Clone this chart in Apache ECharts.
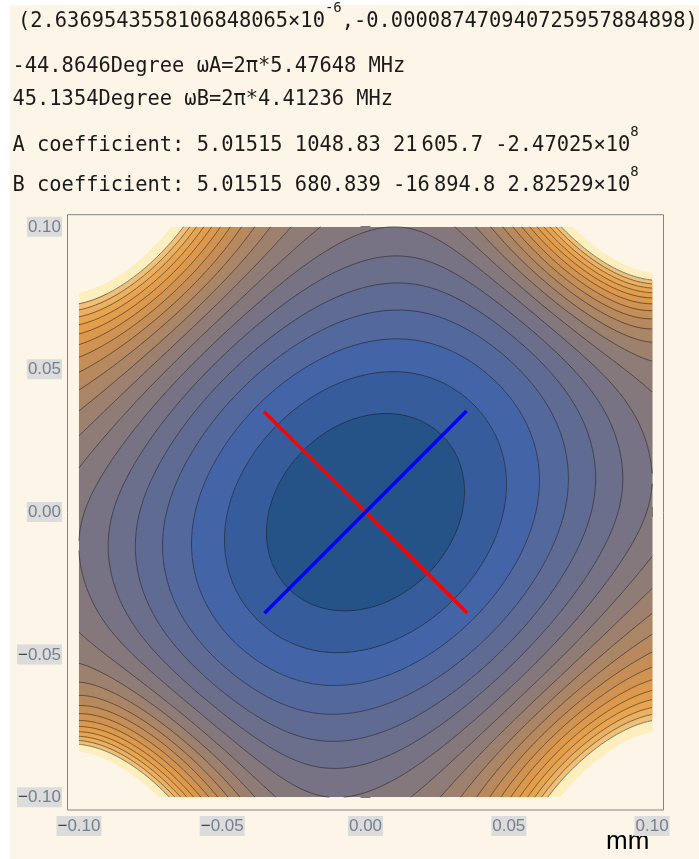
<!DOCTYPE html>
<html>
<head>
<meta charset="utf-8">
<script src="https://cdn.jsdelivr.net/npm/echarts@6.0.0/dist/echarts.min.js"></script>
<style>
html,body{margin:0;padding:0;background:#ffffff;}
#chart{width:699px;height:859px;}
</style>
</head>
<body>
<div id="chart"></div>
<script>
// ================= data =================
const trapCenter    = [2.6369543558106848065e-6, -0.000087470940725957884898]; // mm
const axisAnglesDeg = [-44.8646, 45.1354];       // principal axes A, B
const axisFreqMHz   = [5.47648, 4.41236];        // omega/2pi along A, B
const coefA = [5.01515, 1048.83, 21605.7, -2.47025e8];
const coefB = [5.01515, 680.839, -16894.8, 2.82529e8];
// higher-order part of the plotted field (estimated from the contour shapes)
const electrodeXY     = [0.12587, 0.12587];  // mm, RF electrode positions (+-x, +-y)
const anisoFadeRadius = 0.153;               // mm
const cornerTerms     = [2.434e11, 3.39e8];  // x^4y^4(y^2-x^2), x^3y^3(y^2-x^2)
const contourLevels = [6,7,8,9,10,11,12,13,14,15,16,17,18,19,20,21,22,23,24];
const plotRangeMax  = 26.2;
const majorTicks = [-0.10,-0.05,0.00,0.05,0.10];
const minorTicks = [-0.10,-0.09,-0.08,-0.07,-0.06,-0.05,-0.04,-0.03,-0.02,-0.01,0.00,
                    0.01,0.02,0.03,0.04,0.05,0.06,0.07,0.08,0.09,0.10];
const dataExtent = [-0.10, 0.10];
const crossHalfLength = 0.05;   // mm
const centerText = ['(2.6369543558106848065\u00d710', '-6', ',-0.000087470940725957884898)'];
const axisUnit = 'mm';

// ================= style =================
const bandColors = ['#255388','#365c9c','#4464a8','#53689c','#606b93','#6c6f8b','#787384',
  '#84787d','#907c76','#9d806e','#aa8566','#b8895e','#c58e57','#d19351','#dc994d',
  '#e39e4c','#e7a552','#ebb060','#f0c078','#fdeebe'];
const CREAM = '#fdf5e7';
const FR = {left: 67.5, top: 214.7, width: 596, height: 595.3};
const XR = [-0.104, 0.104], YR = [-0.1045, 0.1042];
const MONO = '"DejaVu Sans Mono", monospace';
const SANS = '"Liberation Sans", Arial, sans-serif';

// ================= field =================
const V0 = coefA[0], kA = coefA[1], kB = coefB[1];
const thA = axisAnglesDeg[0]*Math.PI/180, thB = axisAnglesDeg[1]*Math.PI/180;
const cA = Math.cos(thA), sAn = Math.sin(thA), cB = Math.cos(thB), sBn = Math.sin(thB);
const Ciso = (kA + kB) / 2;
const rods = [[electrodeXY[0], electrodeXY[1], 1], [-electrodeXY[0], electrodeXY[1], -1],
              [-electrodeXY[0], -electrodeXY[1], 1], [electrodeXY[0], -electrodeXY[1], -1]];
function E2(x, y) {
  let re = 0, im = 0;
  for (const r of rods) {
    const dx = x - r[0], dy = y - r[1], d2 = dx*dx + dy*dy;
    re += r[2]*dx/d2; im -= r[2]*dy/d2;
  }
  return re*re + im*im;
}
const Knorm = Ciso / (E2(1e-6, 0) / 1e-12);
function field(x, y) {
  const dx = x - trapCenter[0], dy = y - trapCenter[1];
  const a = dx*cA + dy*sAn, b = dx*cB + dy*sBn;
  const x2 = dx*dx, y2 = dy*dy, r2 = x2 + y2;
  const Q = kA*a*a + kB*b*b;
  const q = r2/(anisoFadeRadius*anisoFadeRadius);
  const h = 1/(1 + q*q);
  const xy = dx*dy, d = y2 - x2;
  const corner = cornerTerms[0]*xy*xy*xy*xy*d + cornerTerms[1]*xy*xy*xy*d;
  return V0 + Knorm*E2(dx, dy) + h*(Q - Ciso*r2) + corner;
}
const thresholds = contourLevels.concat([plotRangeMax]);
function bandOf(v) {
  if (v > plotRangeMax) return -1;
  let n = 0;
  for (const L of contourLevels) if (v >= L) n++;
  return n;
}

// filled bands: row-wise runs of equal band, boundaries interpolated
const span = dataExtent[1] - dataExtent[0];
const NR = 572, NCOL = 574;
const runs = [];
for (let j = 0; j < NR; j++) {
  const y0 = dataExtent[0] + j*span/NR, y1 = dataExtent[0] + (j+1)*span/NR, yc = (y0 + y1)/2;
  let px = dataExtent[0], pv = field(px, yc), cur = bandOf(pv), start = px;
  for (let i = 1; i <= NCOL; i++) {
    const x = dataExtent[0] + i*span/NCOL, v = field(x, yc), b = bandOf(v);
    if (b !== cur) {
      let cross;
      if (v > pv) cross = thresholds.filter(t => t > pv && t <= v).sort((p, q) => p - q);
      else cross = thresholds.filter(t => t <= pv && t > v).sort((p, q) => q - p);
      for (const t of cross) {
        const xc = px + (t - pv)/(v - pv)*(x - px);
        if (cur >= 0 && xc > start) runs.push([start, xc, y0, y1, cur]);
        start = xc;
        cur = bandOf(v > pv ? t + 1e-9 : t - 1e-9);
      }
      cur = b;
    }
    px = x; pv = v;
  }
  if (cur >= 0) runs.push([start, dataExtent[1], y0, y1, cur]);
}

// contour lines: marching squares on a node grid
const M = 400;
const xs = [], ys = [];
for (let i = 0; i <= M; i++) { xs.push(dataExtent[0] + i*span/M); ys.push(dataExtent[0] + i*span/M); }
const G = new Float64Array((M+1)*(M+1));
for (let j = 0; j <= M; j++) for (let i = 0; i <= M; i++) G[j*(M+1)+i] = field(xs[i], ys[j]);
function contour(L) {
  const pts = new Map(), segs = [];
  const g = (i, j) => G[j*(M+1)+i];
  function H(i, j) { const k = 'h'+i+'_'+j; if (!pts.has(k)) { const a = g(i,j), b = g(i+1,j), t = (L-a)/(b-a); pts.set(k, [xs[i] + t*(xs[i+1]-xs[i]), ys[j]]); } return k; }
  function Vv(i, j) { const k = 'v'+i+'_'+j; if (!pts.has(k)) { const a = g(i,j), b = g(i,j+1), t = (L-a)/(b-a); pts.set(k, [xs[i], ys[j] + t*(ys[j+1]-ys[j])]); } return k; }
  for (let j = 0; j < M; j++) for (let i = 0; i < M; i++) {
    const v00 = g(i,j), v10 = g(i+1,j), v11 = g(i+1,j+1), v01 = g(i,j+1);
    const b1 = v00 >= L, b2 = v10 >= L, b4 = v11 >= L, b8 = v01 >= L;
    const c = (b1?1:0) | (b2?2:0) | (b4?4:0) | (b8?8:0);
    if (c === 0 || c === 15) continue;
    const e = [];
    if (b1 !== b2) e.push('B'); if (b2 !== b4) e.push('R'); if (b4 !== b8) e.push('T'); if (b8 !== b1) e.push('L');
    const key = n => n === 'B' ? H(i,j) : n === 'T' ? H(i,j+1) : n === 'L' ? Vv(i,j) : Vv(i+1,j);
    if (e.length === 2) { segs.push([key(e[0]), key(e[1])]); }
    else {
      const cen = (v00+v10+v11+v01)/4;
      if ((c === 5 && cen >= L) || (c === 10 && cen < L)) { segs.push([key('B'), key('R')]); segs.push([key('T'), key('L')]); }
      else { segs.push([key('B'), key('L')]); segs.push([key('R'), key('T')]); }
    }
  }
  const map = new Map();
  segs.forEach((s, idx) => s.forEach(k => { if (!map.has(k)) map.set(k, []); map.get(k).push(idx); }));
  const used = new Uint8Array(segs.length), lines = [];
  for (let s0 = 0; s0 < segs.length; s0++) {
    if (used[s0]) continue; used[s0] = 1;
    const fwd = [segs[s0][0], segs[s0][1]];
    let k = segs[s0][1];
    for (;;) { const n = (map.get(k) || []).find(q => !used[q]); if (n === undefined) break; used[n] = 1; k = segs[n][0] === k ? segs[n][1] : segs[n][0]; fwd.push(k); }
    const back = []; k = segs[s0][0];
    for (;;) { const n = (map.get(k) || []).find(q => !used[q]); if (n === undefined) break; used[n] = 1; k = segs[n][0] === k ? segs[n][1] : segs[n][0]; back.push(k); }
    const keys = back.reverse().concat(fwd);
    lines.push({coords: keys.map(q => pts.get(q))});
  }
  return lines;
}
let contourData = [];
for (const L of contourLevels) contourData = contourData.concat(contour(L));

// principal-axis cross
function axisSeg(th) {
  return [[trapCenter[0] - crossHalfLength*Math.cos(th), trapCenter[1] - crossHalfLength*Math.sin(th)],
          [trapCenter[0] + crossHalfLength*Math.cos(th), trapCenter[1] + crossHalfLength*Math.sin(th)]];
}

// ================= header text =================
function numParts(v) {
  const av = Math.abs(v);
  if (av >= 1e6) {
    const e = Math.floor(Math.log10(av)); const m = v/Math.pow(10, e);
    return [{t: (+m.toPrecision(6)) + '\u00d710'}, {t: String(e), sup: true}];
  }
  if (av >= 1e4) {
    const s = String(v), neg = s[0] === '-', body = neg ? s.slice(1) : s;
    const ip = body.split('.')[0], head = ip.slice(0, ip.length - 3);
    return [{t: (neg ? '-' : '') + head}, {thin: true}, {t: body.slice(head.length)}];
  }
  return [{t: String(v)}];
}
function coefLine(name, c) {
  let parts = [{t: name + ' coefficient: '}];
  c.forEach((v, i) => { parts = parts.concat(numParts(v)); if (i < c.length - 1) parts.push({t: ' '}); });
  return parts;
}
const header = [
  {x: 18, y: 21.5, parts: [{t: centerText[0]}, {t: centerText[1], sup: true}, {t: centerText[2]}]},
  {x: 12.5, y: 66.5, parts: [{t: axisAnglesDeg[0] + 'Degree \u03c9A=2\u03c0*' + axisFreqMHz[0] + ' MHz'}]},
  {x: 12.5, y: 99.5, parts: [{t: axisAnglesDeg[1] + 'Degree \u03c9B=2\u03c0*' + axisFreqMHz[1] + ' MHz'}]},
  {x: 12.5, y: 145.5, parts: coefLine('A', coefA)},
  {x: 12.5, y: 185.5, parts: coefLine('B', coefB)}
];
const MAIN_FS = 20.4, SUP_FS = 14;
const mctx = document.createElement('canvas').getContext('2d');
function tw(t, fs) { mctx.font = fs + 'px ' + MONO; return mctx.measureText(t).width; }
const graphics = [
  {type: 'rect', shape: {x: 0, y: 0, width: 10, height: 859}, style: {fill: '#ffffff'}, silent: true},
  {type: 'rect', shape: {x: 0, y: 0, width: 699, height: 5}, style: {fill: '#ffffff'}, silent: true}
];
header.forEach(line => {
  let x = line.x;
  line.parts.forEach(p => {
    if (p.thin) { x += 4; return; }
    const fs = p.sup ? SUP_FS : MAIN_FS;
    graphics.push({type: 'text', x: x, y: p.sup ? line.y - 13.2 : line.y, silent: true,
      style: {text: p.t, font: fs + 'px ' + MONO, fill: '#1a1a1a', align: 'left', verticalAlign: 'middle'}});
    x += tw(p.t, fs);
  });
});
graphics.push({type: 'text', x: 606, y: 842, silent: true,
  style: {text: axisUnit, font: '26px ' + SANS, fill: '#000000', align: 'left', verticalAlign: 'middle'}});

// ================= chart =================
const fmtLab = v => { const s = Math.abs(v).toFixed(2); return v < -1e-9 ? '{m|\u2212}' + s : s; };
const labStyle = {fontFamily: SANS, fontSize: 17, color: '#74808e', backgroundColor: '#dcdcdc',
  padding: [2, 1, 1, 1], rich: {m: {fontFamily: SANS, fontSize: 17, color: '#3c3c3c'}}};
function mkAxis(dim, pos, ticks, len, labels) {
  return {type: 'value', gridIndex: 0, position: pos, min: dim === 'x' ? XR[0] : YR[0], max: dim === 'x' ? XR[1] : YR[1],
    axisLine: {show: false}, splitLine: {show: false},
    axisTick: {show: true, inside: true, length: len, customValues: ticks, lineStyle: {color: '#7a7a7a', width: 1}},
    axisLabel: labels ? Object.assign({show: true, customValues: majorTicks, formatter: fmtLab, margin: dim === 'x' ? 6 : 5.5}, labStyle) : {show: false}};
}

const option = {
  backgroundColor: CREAM,
  animation: false,
  graphic: graphics,
  grid: [{left: FR.left, top: FR.top, width: FR.width, height: FR.height, show: true,
           borderColor: '#858585', borderWidth: 1, backgroundColor: 'transparent'}],
  xAxis: [mkAxis('x', 'bottom', majorTicks, 5, true), mkAxis('x', 'bottom', minorTicks, 3, false),
          mkAxis('x', 'top', majorTicks, 5, false), mkAxis('x', 'top', minorTicks, 3, false)],
  yAxis: [mkAxis('y', 'left', majorTicks, 5, true), mkAxis('y', 'left', minorTicks, 3, false),
          mkAxis('y', 'right', majorTicks, 5, false), mkAxis('y', 'right', minorTicks, 3, false)],
  series: [
    {type: 'custom', coordinateSystem: 'cartesian2d', xAxisIndex: 0, yAxisIndex: 0, data: runs,
     encode: {x: [0, 1], y: [2, 3]}, progressive: 0, silent: true, clip: false, z: 1,
     renderItem: (params, api) => {
       const p0 = api.coord([api.value(0), api.value(3)]);
       const p1 = api.coord([api.value(1), api.value(2)]);
       const yt = Math.round(p0[1]), yb = Math.round(p1[1]);
       if (yb <= yt) return null;
       return {type: 'rect', shape: {x: p0[0], y: yt, width: p1[0] - p0[0] + 0.5, height: yb - yt},
               style: {fill: bandColors[api.value(4)]}};
     }},
    {type: 'lines', coordinateSystem: 'cartesian2d', xAxisIndex: 0, yAxisIndex: 0, polyline: true, silent: true,
     data: contourData, lineStyle: {color: 'rgba(25,25,25,0.6)', width: 0.9, opacity: 1}, z: 3},
    {type: 'line', xAxisIndex: 0, yAxisIndex: 0, data: axisSeg(thA), symbol: 'none', silent: true,
     lineStyle: {color: '#ff0000', width: 3.5}, z: 4},
    {type: 'line', xAxisIndex: 0, yAxisIndex: 0, data: axisSeg(thB), symbol: 'none', silent: true,
     lineStyle: {color: '#0000ff', width: 3.5}, z: 5}
  ]
};
const chart = echarts.init(document.getElementById('chart'), null, {renderer: 'canvas', width: 699, height: 859});
chart.setOption(option);
</script>
</body>
</html>
